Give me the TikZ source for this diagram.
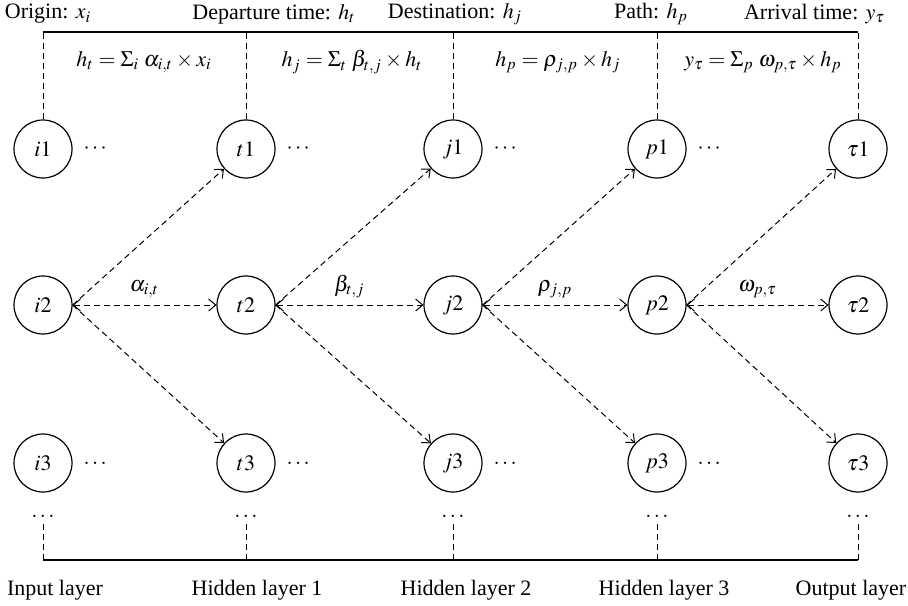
\documentclass[tikz,border=0pt]{standalone}
\usepackage{mathptmx}
\usepackage{fontspec}
\setmainfont{Liberation Serif}
\usetikzlibrary{arrows.meta, positioning}

\begin{document}
\begin{tikzpicture}[x=0.5pt, y=-0.5pt,
  neuron/.style={circle, draw, line width=0.6pt,
                 minimum size=29pt, inner sep=0pt},
  link/.style={dash pattern=on 3pt off 2pt, line width=0.5pt},
  guide/.style={dash pattern=on 3pt off 2pt, line width=0.5pt},
  rail/.style={line width=0.7pt},
  >={Straight Barb[length=3.5pt,width=6pt]},
  font=\fontsize{11}{13}\selectfont
]
  \useasboundingbox (0,0) rectangle (908,605);

  %% Neurons (3 rows, 5 layers)
  \foreach \n/\x/\lab in {i/43/i, t/246/t, j/453/j, p/657/p, tau/858/\tau} {
    \node[neuron] (\n1) at (\x,149) {$\lab1$};
    \node[neuron] (\n2) at (\x,305) {$\lab2$};
    \node[neuron] (\n3) at (\x,463) {$\lab3$};
    \node (\n-more) at (\x,516) {$\ldots$};
  }

  %% Trailing dots
  \foreach \n in {i,t,j,p} {
    \node[right=2pt of \n1] (\n1-dots) {$\cdots$};
    \node[right=2pt of \n3] (\n3-dots) {$\ldots$};
  }

  %% Weights between layers
  \foreach \a/\b/\w in {i/t/{\alpha_{i,t}}, t/j/{\beta_{t,j}},
                        j/p/{\rho_{j,p}}, p/tau/{\omega_{p,\tau}}} {
    \draw[link,<->] (\a2.east) -- node[above] {$\w$} (\b2);
    \draw[link,->] (\a2.east) -- (\b1);
    \draw[link,->] (\a2.east) -- (\b3);
  }

  %% Top bracket
  \coordinate (topline) at (0,32);
  \foreach \n in {i,t,j,p,tau}
    \draw[guide] (\n1.north) -- (\n1.north |- topline);
  \draw[rail] (i1.north |- topline) -- (tau1.north |- topline);

  \node (lab-origin) at (48,14)  {Origin: $x_i$};
  \node (lab-dep)    at (274,14) {Departure time: $h_t$};
  \node (lab-dest)   at (455,14) {Destination: $h_j$};
  \node (lab-path)   at (651,14) {Path: $h_p$};
  \node[anchor=east] (lab-arr) at (892,14) {Arrival time: $y_\tau$};

  \node (eq-t) at (144,62) {$h_t = \Sigma_i\; \alpha_{i,t} \times x_i$};
  \node (eq-j) at (352,62) {$h_j = \Sigma_t\; \beta_{t,j} \times h_t$};
  \node (eq-p) at (558,62) {$h_p = \rho_{j,p} \times h_j$};
  \node (eq-y) at (763,62) {$y_\tau = \Sigma_p\; \omega_{p,\tau} \times h_p$};

  %% Bottom bracket
  \coordinate (botline) at (0,560);
  \foreach \n in {i,t,j,p,tau}
    \draw[guide] (\n-more.south) -- (\n-more.south |- botline);
  \draw[rail] (i-more.south |- botline) -- (tau-more.south |- botline);

  \node (lay-in)  at (55,590)  {Input layer};
  \node (lay-h1)  at (257,590) {Hidden layer 1};
  \node (lay-h2)  at (466,590) {Hidden layer 2};
  \node (lay-h3)  at (664,590) {Hidden layer 3};
  \node (lay-out) at (851,590) {Output layer};

\end{tikzpicture}
\end{document}
